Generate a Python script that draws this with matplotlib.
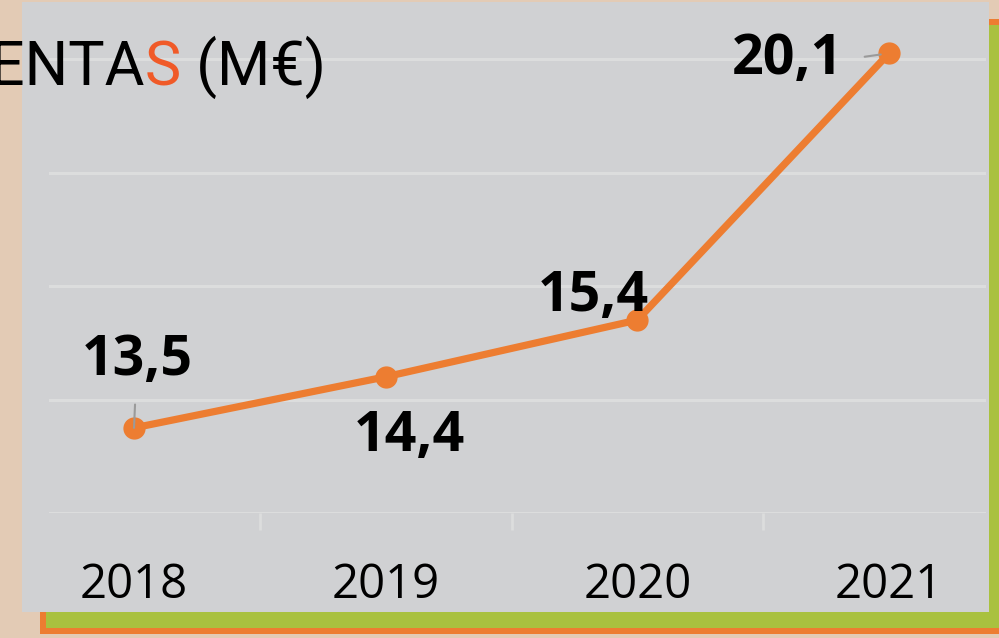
import matplotlib.pyplot as plt
from matplotlib.patches import Rectangle

years = ["2018", "2019", "2020", "2021"]
ventas = [13.5, 14.4, 15.4, 20.1]
labels = ["13,5", "14,4", "15,4", "20,1"]
# label offsets in pixels (dx, dy) from the point, baseline anchored
offsets = [(3, 53), (24, -74), (-44, 9), (-102, -21)]

W, H = 999, 638
BEIGE = "#e3cbb5"
PANEL = "#d0d1d3"
GRID = "#dcdddd"
ORANGE = "#ed7d31"
GREEN = "#a9c13f"
TITLE_FONT = ["Roboto", "DejaVu Sans"]


def box(x0, y0, x1, y1):
    # pixel box (top-left origin) -> figure fraction rectangle
    return (x0 / W, 1 - y1 / H), (x1 - x0) / W, (y1 - y0) / H


fig = plt.figure(figsize=(W / 100, H / 100), dpi=100)
fig.patch.set_facecolor(BEIGE)

xy, w, h = box(40, 19, 1010, 634)
fig.add_artist(Rectangle(xy, w, h, transform=fig.transFigure, facecolor=ORANGE, edgecolor="none", zorder=0))
xy, w, h = box(46, 25, 1010, 628)
fig.add_artist(Rectangle(xy, w, h, transform=fig.transFigure, facecolor=GREEN, edgecolor="none", zorder=0))
xy, w, h = box(22, 2, 989, 612)
fig.add_artist(Rectangle(xy, w, h, transform=fig.transFigure, facecolor=PANEL, edgecolor="none", zorder=0))

ax = fig.add_axes([49 / W, (H - 513) / H, (986 - 49) / W, 510 / H])
ax.set_facecolor("none")
x = list(range(len(years)))
ax.plot(x, ventas, color=ORANGE, lw=5.2, marker="o", ms=15, solid_capstyle="round", zorder=3)

ax.set_xlim(-85 / 251.67, 3 + 97 / 251.67)
ax.set_ylim(12, 12 + 510 / 56.75)
ax.set_yticks([12, 14, 16, 18, 20])
ax.yaxis.grid(True, color=GRID, lw=2.2)
ax.set_axisbelow(True)
ax.tick_params(axis="y", left=False, labelleft=False)
for s in ax.spines.values():
    s.set_visible(False)

ax.set_xticks(x)
ax.set_xticklabels(years, fontsize=34, fontfamily="Open Sans")
ax.tick_params(axis="x", which="major", length=0, pad=35)
ax.set_xticks([0.5, 1.5, 2.5], minor=True)
ax.tick_params(axis="x", which="minor", length=12, width=2, color=GRID, direction="out")

for i, (lab, (dx, dy)) in enumerate(zip(labels, offsets)):
    arrow = None
    if i == 0:
        arrow = dict(arrowstyle="-", color="#9a9a9a", lw=1.5, shrinkA=10, shrinkB=0)
    if i == 3:
        arrow = dict(arrowstyle="-", color="#9a9a9a", lw=1.5, shrinkA=14, shrinkB=6, relpos=(1, 0.5))
    ax.annotate(lab, (x[i], ventas[i]), xytext=(dx, dy), textcoords="offset pixels",
                ha="center", va="baseline", fontsize=40, fontweight="bold",
                fontfamily="Open Sans", color="black", arrowprops=arrow, zorder=4)

# title, built right to left so it ends where the reference does; cut at the left edge
base = 1 - 85 / H
t1 = fig.text(326 / W, base, " (M€)", fontsize=44, fontfamily=TITLE_FONT,
              color="black", ha="right", va="baseline")
fig.canvas.draw()
bb = t1.get_window_extent()
t2 = fig.text(bb.x0 / W, base, "S", fontsize=44, fontfamily=TITLE_FONT,
              color="#f05a28", ha="right", va="baseline")
fig.canvas.draw()
bb = t2.get_window_extent()
fig.text(bb.x0 / W, base, "VENTA", fontsize=44, fontfamily=TITLE_FONT,
         color="black", ha="right", va="baseline")

fig.savefig("out.png", dpi=100, facecolor=fig.get_facecolor())
